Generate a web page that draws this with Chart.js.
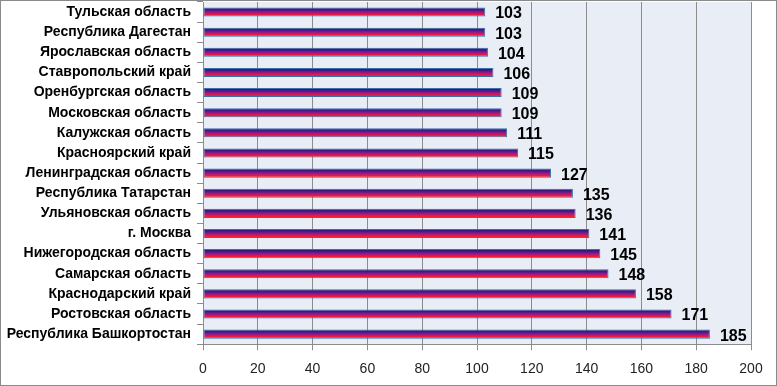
<!DOCTYPE html>
<html>
<head>
<meta charset="utf-8">
<script src="https://cdn.jsdelivr.net/npm/chart.js@4.4.1/dist/chart.umd.min.js"></script>
<style>
  html, body { margin: 0; padding: 0; background: #fff; }
  #wrap { position: relative; width: 775px; height: 384px; border: 1px solid #8a8a8a; }
</style>
</head>
<body>
<div id="wrap"><canvas id="barChart"></canvas></div>
<script>
var regions = [
    "Тульская область",
    "Республика Дагестан",
    "Ярославская область",
    "Ставропольский край",
    "Оренбургская область",
    "Московская область",
    "Калужская область",
    "Красноярский край",
    "Ленинградская область",
    "Республика Татарстан",
    "Ульяновская область",
    "г. Москва",
    "Нижегородская область",
    "Самарская область",
    "Краснодарский край",
    "Ростовская область",
    "Республика Башкортостан"
];
var values = [103, 103, 104, 106, 109, 109, 111, 115, 127, 135, 136, 141, 145, 148, 158, 171, 185];
var xTicks = [0, 20, 40, 60, 80, 100, 120, 140, 160, 180, 200];

// plot area background
var plotBg = {
    id: "plotBg",
    beforeDraw: function(chart) {
        var a = chart.chartArea;
        var ctx = chart.ctx;
        ctx.save();
        ctx.fillStyle = "#e9edf6";
        ctx.fillRect(a.left, a.top, a.right - a.left, a.bottom - a.top);
        ctx.restore();
    }
};

// vertical gradient on each bar (options are shared, so give each bar its own copy)
var barGradient = {
    id: "barGradient",
    beforeDatasetsDraw: function(chart) {
        var ctx = chart.ctx;
        chart.getDatasetMeta(0).data.forEach(function(bar) {
            var top = bar.y - bar.height / 2;
            var g = ctx.createLinearGradient(0, top, 0, top + bar.height);
            g.addColorStop(0, "#1c1660");
            g.addColorStop(0.3, "#4a1b8e");
            g.addColorStop(0.55, "#a3197f");
            g.addColorStop(0.78, "#f0183c");
            g.addColorStop(0.92, "#ff2020");
            g.addColorStop(1, "#d01818");
            var opts = Object.assign({}, bar.options);
            opts.backgroundColor = g;
            bar.options = opts;
        });
    }
};

// value labels to the right of the bars
var valueLabels = {
    id: "valueLabels",
    afterDatasetsDraw: function(chart) {
        var ctx = chart.ctx;
        ctx.save();
        ctx.font = "bold 16px 'Liberation Sans', Arial, sans-serif";
        ctx.fillStyle = "#000";
        ctx.textAlign = "left";
        ctx.textBaseline = "middle";
        chart.getDatasetMeta(0).data.forEach(function(bar, i) {
            ctx.fillText(values[i], bar.x + 10, bar.y + 2);
        });
        ctx.restore();
    }
};

var ctx = document.getElementById("barChart").getContext("2d");
new Chart(ctx, {
    type: "bar",
    data: {
        labels: regions,
        datasets: [{
            data: values,
            borderColor: "#3d6fa8",
            borderWidth: 1,
            borderSkipped: false,
            barPercentage: 1,
            categoryPercentage: 0.45
        }]
    },
    options: {
        indexAxis: "y",
        responsive: true,
        maintainAspectRatio: false,
        animation: false,
        layout: { padding: { top: 1, right: 25, bottom: 3, left: 0 } },
        plugins: {
            legend: { display: false },
            tooltip: { enabled: false }
        },
        scales: {
            x: {
                min: 0,
                max: 200,
                afterBuildTicks: function(scale) {
                    scale.ticks = xTicks.map(function(v) { return { value: v }; });
                },
                afterFit: function(scale) { scale.height = scale.height - 7; },
                grid: { color: "#8c8c8c", tickLength: 6, tickColor: "#8c8c8c" },
                border: { color: "#8c8c8c" },
                ticks: {
                    color: "#222",
                    padding: 11,
                    font: { family: "'Liberation Sans', Arial, sans-serif", size: 14 }
                }
            },
            y: {
                afterFit: function(scale) {
                    scale.width = 202;
                    scale.paddingTop = 0;
                    scale.paddingBottom = 0;
                },
                grid: { drawOnChartArea: false, tickLength: 6, color: "#8c8c8c", offset: true },
                border: { color: "#8c8c8c" },
                ticks: {
                    autoSkip: false,
                    color: "#000",
                    padding: 6,
                    font: { family: "'Liberation Sans', Arial, sans-serif", size: 14, weight: "bold" }
                }
            }
        }
    },
    plugins: [plotBg, barGradient, valueLabels]
});
</script>
</body>
</html>
